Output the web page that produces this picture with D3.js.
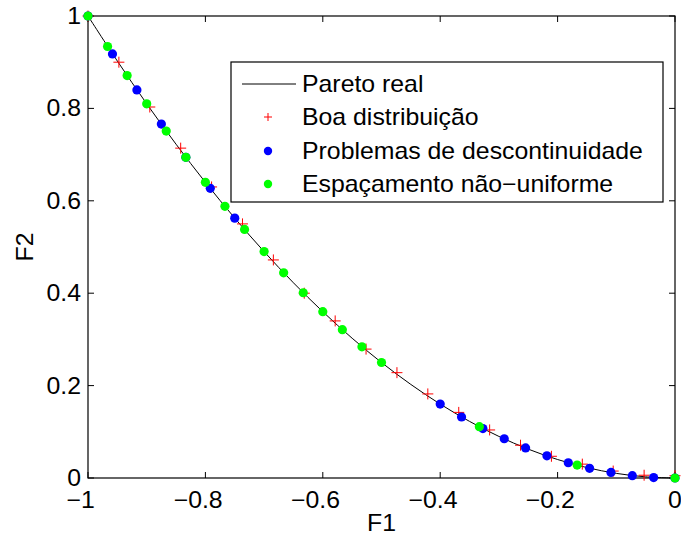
<!DOCTYPE html>
<html><head><meta charset="utf-8">
<script src="https://cdn.jsdelivr.net/npm/d3@7"></script>
<style>body{margin:0;background:#fff}svg{display:block}text{font-family:"Liberation Sans",Arial,sans-serif;fill:#000}</style>
</head><body><svg id="c" width="681" height="540"></svg>
<script>
// Pareto real curve
const paretoX = [-1,-0.95,-0.9,-0.85,-0.8,-0.75,-0.7,-0.65,-0.6,-0.55,-0.5,-0.45,-0.4,-0.35,-0.3,-0.25,-0.2,-0.15,-0.1,-0.05,0];
const paretoY = [1,0.9025,0.81,0.7225,0.64,0.5625,0.49,0.4225,0.36,0.3025,0.25,0.2025,0.16,0.1225,0.09,0.0625,0.04,0.0225,0.01,0.0025,0];
// Boa distribuição
const boaX = [-1,-0.9474,-0.8947,-0.8421,-0.7895,-0.7368,-0.6842,-0.6316,-0.5789,-0.5263,-0.4737,-0.4211,-0.3684,-0.3158,-0.2632,-0.2105,-0.1579,-0.1053,-0.0526,0];
const boaY = [1,0.900,0.803,0.714,0.630,0.550,0.472,0.400,0.340,0.279,0.228,0.182,0.142,0.104,0.071,0.047,0.030,0.015,0.006,0.005];
// Problemas de descontinuidade
const descX = [-1,-0.9583,-0.9167,-0.875,-0.8333,-0.7917,-0.75,-0.4,-0.3636,-0.3273,-0.2909,-0.2545,-0.2182,-0.1818,-0.1455,-0.1091,-0.0727,-0.0364,0];
const descY = [1,0.918,0.840,0.766,0.694,0.627,0.5625,0.16,0.132,0.107,0.085,0.065,0.048,0.033,0.021,0.012,0.005,0.001,0];
// Espaçamento não-uniforme
const espX = [-1,-0.9667,-0.9333,-0.9,-0.8667,-0.8333,-0.8,-0.7667,-0.7333,-0.7,-0.6667,-0.6333,-0.6,-0.5667,-0.5333,-0.5,-0.3333,-0.1667,0];
const espY = [1,0.934,0.871,0.81,0.751,0.694,0.64,0.588,0.538,0.49,0.444,0.401,0.36,0.321,0.284,0.25,0.111,0.028,0];
const xTicks = [-1,-0.8,-0.6,-0.4,-0.2,0];
const yTicks = [0,0.2,0.4,0.6,0.8,1];
const legendLabels = ["Pareto real","Boa distribuição","Problemas de descontinuidade","Espaçamento não\u2212uniforme"];

const svg = d3.select("#c");
const L=88,R=675,T=16,B=478;
const x = d3.scaleLinear().domain([-1,0]).range([L,R]);
const y = d3.scaleLinear().domain([0,1]).range([B,T]);
const FS = 23, SX = 1.08;
const fmt = v => (v<0?"\u2212":"") + String(Math.abs(+v.toFixed(1)));

// axes box
const g = svg.append("g");
g.append("rect").attr("x",L).attr("y",T).attr("width",R-L).attr("height",B-T).attr("fill","none").attr("stroke","#000").attr("stroke-width",1.2);
const tl=6;
xTicks.forEach(t=>{
  g.append("line").attr("x1",x(t)).attr("x2",x(t)).attr("y1",B).attr("y2",B-tl).attr("stroke","#000");
  g.append("line").attr("x1",x(t)).attr("x2",x(t)).attr("y1",T).attr("y2",T+tl).attr("stroke","#000");
});
yTicks.forEach(t=>{
  g.append("line").attr("x1",L).attr("x2",L+tl).attr("y1",y(t)).attr("y2",y(t)).attr("stroke","#000");
  g.append("line").attr("x1",R).attr("x2",R-tl).attr("y1",y(t)).attr("y2",y(t)).attr("stroke","#000");
});
function stext(px,py,str,anchor){
  const t = svg.append("text").attr("transform",`translate(${px},${py}) scale(${SX},1)`).attr("font-size",FS).attr("text-anchor",anchor||"start").text(str);
  return t;
}
// x labels: MATLAB centers the number, minus hangs left
xTicks.forEach(t=>{
  const absStr = fmt(Math.abs(t));
  const tmp = svg.append("text").attr("font-size",FS).text(absStr);
  const w = tmp.node().getComputedTextLength()*SX; tmp.remove();
  stext(x(t)+w/2, 508, fmt(t), "end");
});
yTicks.forEach(t=>{ stext(81, y(t)+8, fmt(t), "end"); });
stext((L+R)/2, 531, "F1", "middle");
svg.append("text").attr("transform",`translate(33,${(T+B)/2}) rotate(-90) scale(${SX},1)`).attr("font-size",FS).attr("text-anchor","middle").text("F2");

// curve
const line = d3.line().x(d=>x(d[0])).y(d=>y(d[1])).curve(d3.curveCatmullRom);
svg.append("path").datum(d3.zip(paretoX,paretoY)).attr("d",line).attr("fill","none").attr("stroke","#000").attr("stroke-width",1);
// red plus
const ps=5.5;
const plusPath = (cx,cy)=>`M${cx-ps},${cy}H${cx+ps}M${cx},${cy-ps}V${cy+ps}`;
svg.append("g").selectAll("path").data(d3.zip(boaX,boaY)).join("path")
  .attr("d",d=>plusPath(x(d[0]),y(d[1]))).attr("stroke","#ff0000").attr("stroke-width",1).attr("fill","none");
svg.append("g").selectAll("circle").data(d3.zip(descX,descY)).join("circle")
  .attr("cx",d=>x(d[0])).attr("cy",d=>y(d[1])).attr("r",4.6).attr("fill","#0000ff");
svg.append("g").selectAll("circle").data(d3.zip(espX,espY)).join("circle")
  .attr("cx",d=>x(d[0])).attr("cy",d=>y(d[1])).attr("r",4.6).attr("fill","#00ff00");

// legend
const lg = svg.append("g");
lg.append("rect").attr("x",231).attr("y",62).attr("width",432).attr("height",140).attr("fill","#fff").attr("stroke","#000").attr("stroke-width",1.2);
const rowsY=[84,117,151,184];
lg.append("line").attr("x1",242).attr("x2",296).attr("y1",rowsY[0]).attr("y2",rowsY[0]).attr("stroke","#000");
lg.append("path").attr("d",`M${268-4},${rowsY[1]}H${268+4}M268,${rowsY[1]-4}V${rowsY[1]+4}`).attr("stroke","#ff0000");
lg.append("circle").attr("cx",268).attr("cy",rowsY[2]).attr("r",4.2).attr("fill","#0000ff");
lg.append("circle").attr("cx",268).attr("cy",rowsY[3]).attr("r",4.2).attr("fill","#00ff00");
legendLabels.forEach((s,i)=>{ stext(302, rowsY[i]+8, s, "start"); });
</script></body></html>
